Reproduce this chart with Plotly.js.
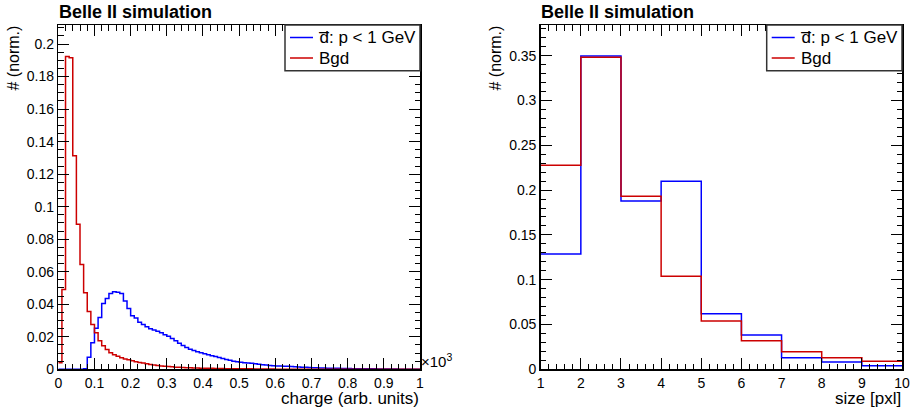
<!DOCTYPE html>
<html>
<head>
<meta charset="utf-8">
<script src="https://cdn.plot.ly/plotly-3.0.1.min.js"></script>
<style>
  html, body { margin: 0; padding: 0; background: #fff; }
  #chart { width: 914px; height: 413px; }
</style>
</head>
<body>
<div id="chart"></div>
<script>
// ---------------- DATA ----------------
// Left panel: charge (x 10^3 arb. units), 100 bins of width 0.01 from 0 to 1
const chargeBinWidth = 0.01;
const chargeSignal = [
  0, 0, 0, 0, 0, 0, 0, 0.0004, 0.0074, 0.0163,
  0.0252, 0.0318, 0.0405, 0.0436, 0.0466, 0.0477, 0.0474, 0.0466, 0.0420, 0.0374,
  0.0330, 0.0315, 0.0290, 0.0275, 0.0262, 0.0250, 0.0242, 0.0234, 0.0224, 0.0213,
  0.0203, 0.0190, 0.0175, 0.0160, 0.0147, 0.0134, 0.0124, 0.0115, 0.0108, 0.0102,
  0.0096, 0.0090, 0.0084, 0.0078, 0.0072, 0.0066, 0.0060, 0.0055, 0.0050, 0.0046,
  0.0043, 0.0041, 0.0039, 0.0037, 0.0034, 0.0031, 0.0028, 0.0026, 0.0024, 0.0022,
  0.0021, 0.0020, 0.0019, 0.0018, 0.0017, 0.0015, 0.0014, 0.0013, 0.0012, 0.0011,
  0.0010, 0.0009, 0.0008, 0.0008, 0.0007, 0.0007, 0.0006, 0.0006, 0.0005, 0.0005,
  0.0005, 0.0004, 0.0004, 0.0004, 0.0003, 0.0003, 0.0003, 0.0003, 0.0002, 0.0002,
  0.0002, 0.0002, 0.0002, 0.0002, 0.0001, 0.0001, 0.0001, 0.0001, 0.0001, 0.0001
];
const chargeBgd = [
  0.0040, 0.0490, 0.1924, 0.1916, 0.1313, 0.0892, 0.0644, 0.0470, 0.0356, 0.0275,
  0.0224, 0.0176, 0.0145, 0.0121, 0.0101, 0.0090, 0.0080, 0.0071, 0.0064, 0.0058,
  0.0052, 0.0047, 0.0042, 0.0038, 0.0034, 0.0030, 0.0027, 0.0024, 0.0021, 0.0019,
  0.0017, 0.0015, 0.0013, 0.0012, 0.0011, 0.0010, 0.0009, 0.0008, 0.0008, 0.0007,
  0.0007, 0.0006, 0.0006, 0.0005, 0.0005, 0.0005, 0.0004, 0.0004, 0.0004, 0.0003,
  0.0003, 0.0003, 0.0003, 0.0003, 0.0002, 0.0002, 0.0002, 0.0002, 0.0002, 0.0002,
  0.0001, 0.0001, 0.0001, 0.0001, 0.0001, 0.0001, 0.0001, 0.0001, 0.0001, 0.0001,
  0.0001, 0.0001, 0.0001, 0.0001, 0.0001, 0.0001, 0.0001, 0.0001, 0.0001, 0.0001,
  0.0001, 0.0001, 0.0001, 0.0001, 0.0001, 0.0001, 0.0001, 0.0001, 0.0001, 0.0001,
  0.0001, 0.0001, 0.0001, 0.0001, 0.0001, 0.0001, 0.0001, 0.0001, 0.0001, 0.0001
];
// Right panel: cluster size [pxl], bins [1,2) ... [9,10)
const sizeBinEdges = [1, 2, 3, 4, 5, 6, 7, 8, 9, 10];
const sizeSignal = [0.1287, 0.3497, 0.1878, 0.2098, 0.0621, 0.0383, 0.0130, 0.0081, 0.0040];
const sizeBgd    = [0.2277, 0.3482, 0.1931, 0.1038, 0.0539, 0.0319, 0.0197, 0.0130, 0.0090];

const seriesNames = ['d\u0305: p < 1 GeV', 'Bgd'];
const seriesColors = ['#0000ff', '#cc0000'];
const chargeTickVals = [0, 0.1, 0.2, 0.3, 0.4, 0.5, 0.6, 0.7, 0.8, 0.9, 1];
const sizeTickVals = [1, 2, 3, 4, 5, 6, 7, 8, 9, 10];

// ---------------- HELPERS ----------------
function stepFromBins(edges, vals) {
  return { x: edges.slice(), y: vals.concat([vals[vals.length - 1]]) };
}
const chargeEdges = [];
for (let i = 0; i <= chargeSignal.length; i++) chargeEdges.push(+(i * chargeBinWidth).toFixed(4));

const W = 914, H = 413;
const FONT = 'Liberation Sans, Arial, Helvetica, sans-serif';
const PX = x => x / W;
const PY = y => 1 - y / H;

function trace(edges, vals, idx, xa, ya) {
  const s = stepFromBins(edges, vals);
  return {
    type: 'scatter', mode: 'lines', x: s.x, y: s.y,
    xaxis: xa, yaxis: ya, showlegend: false,
    name: seriesNames[idx],
    line: { color: seriesColors[idx], width: 1.5, shape: 'hv' },
    hoverinfo: 'skip'
  };
}

const data = [
  trace(chargeEdges, chargeSignal, 0, 'x', 'y'),
  trace(chargeEdges, chargeBgd, 1, 'x', 'y'),
  trace(sizeBinEdges, sizeSignal, 0, 'x2', 'y2'),
  trace(sizeBinEdges, sizeBgd, 1, 'x2', 'y2')
];

const plotTop = 25, plotBot = 369.3;
const axisCommon = {
  showgrid: false, zeroline: false,
  showline: true, linecolor: '#000', linewidth: 1.5, mirror: 'allticks',
  ticks: 'inside', ticklen: 11, tickwidth: 1, tickcolor: '#000',
  tickfont: { family: FONT, size: 14, color: '#000' },
  fixedrange: true
};
const minorCommon = { ticks: 'inside', ticklen: 5.5, tickcolor: '#000', tickwidth: 1, tickmode: 'linear' };

// Legend boxes (ROOT-style TLegend), built from the series names/colours
const shapes = [];
const annotations = [];
function addLegend(x0, x1, y0, y1) {
  shapes.push({ type: 'rect', xref: 'paper', yref: 'paper', x0: PX(x0), x1: PX(x1), y0: PY(y1), y1: PY(y0),
    fillcolor: '#fff', line: { color: '#333', width: 1.5 }, layer: 'above' });
  const rowY = [y0 + 12.5, y0 + 33];
  seriesNames.forEach((nm, i) => {
    shapes.push({ type: 'line', xref: 'paper', yref: 'paper', x0: PX(x0 + 5), x1: PX(x0 + 28), y0: PY(rowY[i]), y1: PY(rowY[i]),
      line: { color: seriesColors[i], width: 1.5 }, layer: 'above' });
    annotations.push({ text: nm, xref: 'paper', yref: 'paper', x: PX(x0 + 32), y: PY(rowY[i]), xanchor: 'left', yanchor: 'middle',
      showarrow: false, font: { family: FONT, size: 17, color: '#000' } });
  });
}
addLegend(285, 420, 25, 70.7);
addLegend(766.7, 902, 25, 70.7);

annotations.push(
  { text: '<b>Belle II simulation</b>', xref: 'paper', yref: 'paper', x: PX(56.5), y: PY(0), xanchor: 'left', yanchor: 'top', showarrow: false, font: { family: FONT, size: 18, color: '#000' } },
  { text: '<b>Belle II simulation</b>', xref: 'paper', yref: 'paper', x: PX(539), y: PY(0), xanchor: 'left', yanchor: 'top', showarrow: false, font: { family: FONT, size: 18, color: '#000' } },
  { text: '# (norm.)', xref: 'paper', yref: 'paper', x: PX(13), y: PY(24), xanchor: 'center', yanchor: 'top', textangle: -90, showarrow: false, font: { family: FONT, size: 16, color: '#000' } },
  { text: '# (norm.)', xref: 'paper', yref: 'paper', x: PX(495), y: PY(24), xanchor: 'center', yanchor: 'top', textangle: -90, showarrow: false, font: { family: FONT, size: 16, color: '#000' } },
  { text: 'charge (arb. units)', xref: 'paper', yref: 'paper', x: PX(421), y: PY(410), xanchor: 'right', yanchor: 'bottom', showarrow: false, font: { family: FONT, size: 17, color: '#000' } },
  { text: 'size [pxl]', xref: 'paper', yref: 'paper', x: PX(903), y: PY(410), xanchor: 'right', yanchor: 'bottom', showarrow: false, font: { family: FONT, size: 17, color: '#000' } },
  { text: '\u00d710<sup>3</sup>', xref: 'paper', yref: 'paper', x: PX(419), y: PY(372), xanchor: 'left', yanchor: 'bottom', showarrow: false, font: { family: FONT, size: 15, color: '#000' } }
);

const layout = {
  width: W, height: H,
  margin: { l: 0, r: 0, t: 0, b: 0 },
  paper_bgcolor: '#fff', plot_bgcolor: '#fff',
  showlegend: false,
  xaxis: Object.assign({}, axisCommon, {
    domain: [PX(58.3), PX(420)], anchor: 'y',
    range: [0, 1], tickmode: 'array', tickvals: chargeTickVals,
    minor: Object.assign({}, minorCommon, { tick0: 0, dtick: 0.02 })
  }),
  yaxis: Object.assign({}, axisCommon, {
    domain: [PY(plotBot), PY(plotTop)], anchor: 'x',
    range: [0, 0.2117], tickmode: 'linear', tick0: 0, dtick: 0.02,
    minor: Object.assign({}, minorCommon, { tick0: 0, dtick: 0.005 })
  }),
  xaxis2: Object.assign({}, axisCommon, {
    domain: [PX(540.7), PX(902)], anchor: 'y2',
    range: [1, 10], tickmode: 'array', tickvals: sizeTickVals,
    minor: Object.assign({}, minorCommon, { tick0: 1, dtick: 0.2 })
  }),
  yaxis2: Object.assign({}, axisCommon, {
    domain: [PY(plotBot), PY(plotTop)], anchor: 'x2',
    range: [0, 0.3843], tickmode: 'linear', tick0: 0, dtick: 0.05,
    minor: Object.assign({}, minorCommon, { tick0: 0, dtick: 0.01 })
  }),
  shapes: shapes,
  annotations: annotations
};

Plotly.newPlot('chart', data, layout, { staticPlot: true, displayModeBar: false });
</script>
</body>
</html>
